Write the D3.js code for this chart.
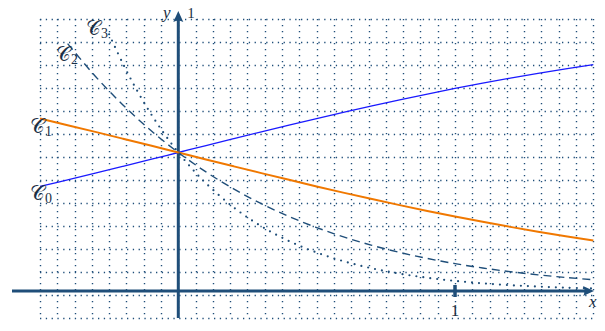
<!DOCTYPE html>
<html><head><meta charset="utf-8">
<script src="https://cdn.jsdelivr.net/npm/d3@7"></script>
<style>body{margin:0;background:#fff}svg{display:block}</style>
</head><body>
<svg id="c" width="605" height="331"></svg>
<script>
// ---- data ----
const xC0 = [-0.5,-0.4,-0.3,-0.2,-0.1,0,0.1,0.2,0.3,0.4,0.5,0.6,0.7,0.8,0.9,1.0,1.1,1.2,1.3,1.4,1.5];
const yC0 = [0.3775,0.4013,0.4256,0.4502,0.4750,0.5,0.5250,0.5498,0.5744,0.5987,0.6225,0.6457,0.6682,0.6900,0.7109,0.7311,0.7503,0.7685,0.7858,0.8022,0.8176];
const xC1 = xC0;
const yC1 = [0.6225,0.5987,0.5744,0.5498,0.5250,0.5,0.4750,0.4502,0.4256,0.4013,0.3775,0.3543,0.3318,0.3100,0.2891,0.2689,0.2497,0.2315,0.2142,0.1978,0.1824];
const xC2 = [-0.4,-0.3,-0.2,-0.1,0,0.1,0.2,0.3,0.4,0.5,0.6,0.7,0.8,0.9,1.0,1.1,1.2,1.3,1.4,1.5];
const yC2 = [0.8931,0.7754,0.6716,0.5802,0.5,0.4298,0.3686,0.3153,0.2690,0.2290,0.1945,0.1648,0.1393,0.1175,0.0989,0.0831,0.0697,0.0584,0.0488,0.0407];
const xC3 = [-0.25,-0.2,-0.15,-0.1,-0.05,0,0.05,0.1,0.2,0.3,0.4,0.5,0.6,0.7,0.8,0.9,1.0,1.1,1.2,1.3,1.4,1.5];
const yC3 = [0.9269,0.8202,0.7255,0.6412,0.5664,0.5,0.4411,0.3889,0.3018,0.2336,0.1803,0.1389,0.1067,0.0818,0.0626,0.0478,0.0364,0.0277,0.0210,0.0159,0.0120,0.0091];
const curveNames = ["0","1","2","3"];
const xTickValues = [1];
const yTickValues = [1];

// ---- drawing ----
const svg = d3.select("#c");
const x = d3.scaleLinear().domain([0,1]).range([178.3,455]);
const y = d3.scaleLinear().domain([0,1]).range([291,14]);
const ink = "#1f4e79";
const txt = "#1b2f45";

// dotted grid
const gTop = 19, gBot = 318, gLeft = x(-0.5), gRight = 595;
const grid = svg.append("g").attr("stroke", ink).attr("stroke-width",1.4).attr("fill","none");
d3.range(0, 33).map(k => -0.5 + k/16).forEach(v => {
  const px = Math.round(x(v)) + 0.5;
  grid.append("line").attr("x1",px).attr("x2",px).attr("y1",gTop).attr("y2",gBot)
    .attr("stroke-dasharray","1.3 4.7");
});
d3.range(0, 14).map(k => y.invert(gTop + 23*k)).forEach(v => {
  const py = Math.round(y(v)) + 0.5;
  grid.append("line").attr("y1",py).attr("y2",py).attr("x1",Math.round(gLeft)).attr("x2",gRight)
    .attr("stroke-dasharray","1.3 4.5");
});

// axes
svg.append("line").attr("x1",12).attr("x2",586).attr("y1",y(0)).attr("y2",y(0))
  .attr("stroke",ink).attr("stroke-width",3);
svg.append("line").attr("x1",x(0)).attr("x2",x(0)).attr("y1",gBot).attr("y2",20)
  .attr("stroke",ink).attr("stroke-width",3);
function arrow(tx,ty,dir){
  let p;
  if(dir==='r') p=`M${tx},${ty} L${tx-11},${ty-5} Q${tx-8},${ty} ${tx-11},${ty+5} Z`;
  else p=`M${tx},${ty} L${tx-5},${ty+11} Q${tx},${ty+8} ${tx+5},${ty+11} Z`;
  svg.append("path").attr("d",p).attr("fill",ink);
}
arrow(594, y(0), 'r');
arrow(x(0), 11, 'u');

// tick at x=1
xTickValues.forEach(v=>{
  svg.append("line").attr("x1",x(v)).attr("x2",x(v)).attr("y1",y(0)-6).attr("y2",y(0)+6)
    .attr("stroke",ink).attr("stroke-width",3.5);
  svg.append("text").attr("x",x(v)).attr("y",316).attr("text-anchor","middle")
    .attr("font-family","Liberation Serif").attr("font-size",17).attr("fill",txt).text(v);
});
yTickValues.forEach(v=>{
  svg.append("text").attr("x",x(0)+9).attr("y",y(v)+4).attr("font-family","Liberation Serif")
    .attr("font-size",15).attr("fill",txt).text(v);
});
svg.append("text").attr("x",163).attr("y",18).attr("font-family","Liberation Serif").attr("font-style","italic")
  .attr("font-size",17).attr("fill",txt).text("y");
svg.append("text").attr("x",589).attr("y",307).attr("font-family","Liberation Serif").attr("font-style","italic")
  .attr("font-size",17).attr("fill",txt).text("x");

// curves
const line = d3.line().x(d=>x(d[0])).y(d=>y(d[1])).curve(d3.curveCatmullRom);
const series = [
  {xs:xC0, ys:yC0, color:"#1a1aff", w:1.3, dash:null},
  {xs:xC1, ys:yC1, color:"#f07800", w:2, dash:null},
  {xs:xC2, ys:yC2, color:ink, w:1.4, dash:"8 5"},
  {xs:xC3, ys:yC3, color:ink, w:2.2, dash:"0 7"}
];
series.forEach(s=>{
  const p = svg.append("path").datum(s.xs.map((v,i)=>[v,s.ys[i]]))
    .attr("d",line).attr("fill","none").attr("stroke",s.color).attr("stroke-width",s.w);
  if(s.dash){ p.attr("stroke-dasharray",s.dash); }
  if(s.dash==="0 7"){ p.attr("stroke-linecap","round"); }
});

// curve labels
const labelPos = [[30,200],[30,133],[56,61],[86,35]];
curveNames.forEach((n,i)=>{
  const t = svg.append("text").attr("x",labelPos[i][0]).attr("y",labelPos[i][1])
    .attr("font-family","DejaVu Serif, Liberation Serif").attr("fill",txt).attr("font-size",20);
  t.append("tspan").text("𝒞");
  t.append("tspan").attr("font-family","Liberation Serif").attr("font-size",14).attr("dy",3).text(n);
});
</script>
</body></html>
